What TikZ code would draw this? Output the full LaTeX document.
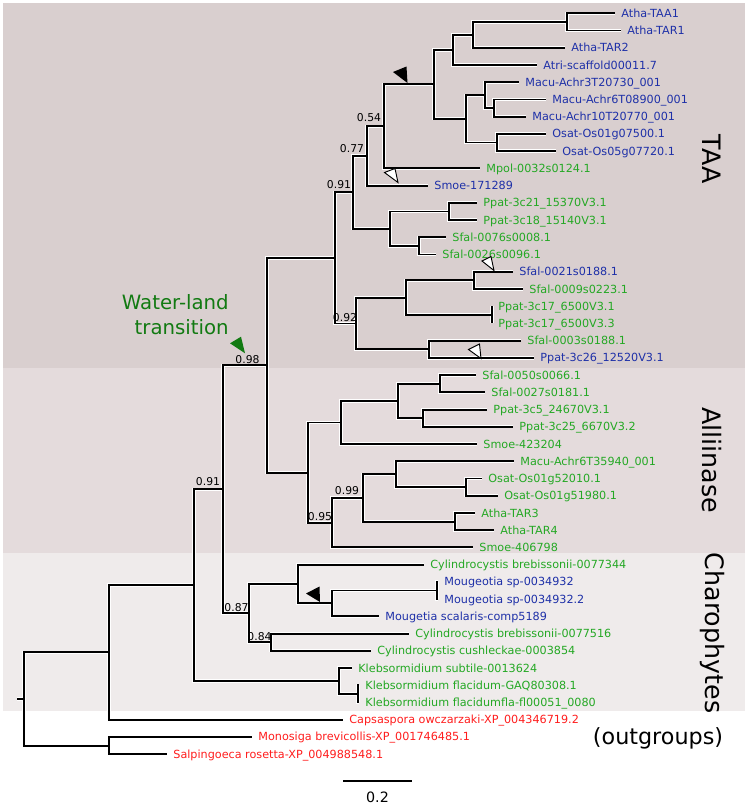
\documentclass[tikz,border=0pt]{standalone}
\usepackage{fontspec}
\setmainfont{DejaVu Sans}
\definecolor{seqblue}{RGB}{30,48,168}
\definecolor{seqgreen}{RGB}{36,168,36}
\definecolor{seqred}{RGB}{255,28,28}
\definecolor{wlgreen}{RGB}{18,122,18}
\definecolor{bgtaa}{RGB}{217,207,207}
\definecolor{bgalli}{RGB}{228,219,220}
\definecolor{bgcharo}{RGB}{239,235,235}

\begin{document}
\begin{tikzpicture}[x=0.75pt,y=-0.75pt,
	br/.style={line width=1.4pt,preaction={draw=white,line width=2.5pt}},
	lb/.style={anchor=west,inner xsep=4.6pt,inner ysep=0pt,text height=6.1pt,text depth=0pt,font=\fontsize{8.4}{10}\selectfont},
	lbb/.style={lb,text=seqblue},
	lbg/.style={lb,text=seqgreen},
	lbr/.style={lb,text=seqred},
	bs/.style={inner sep=0pt,text height=5.9pt,text depth=0pt,font=\fontsize{8.1}{10}\selectfont},
	grp/.style={inner sep=0pt,font=\fontsize{19}{22}\selectfont}]
				  \useasboundingbox (0,0) rectangle (748,804);
				  %BANDES
				  \fill[bgtaa] (3,3) rectangle (745,367.5);
				  \fill[bgalli] (3,367.5) rectangle (745,552.5);
				  \fill[bgcharo] (3,552.5) rectangle (745,711);
				  \node[grp,rotate=-90] (gtaa) at (712,159) {TAA};
				  \node[grp,rotate=-90] (galli) at (712,460) {Alliinase};
				  \node[grp,rotate=-90] (gcharo) at (712,633) {Charophytes};
				  \node[grp,font=\fontsize{16.7}{20}\selectfont] (gout) at (658,738) {(outgroups)};
				  %FEUILLES TAA
				  \node[lbb] (taa1) at (615,13.3) {Atha-TAA1};
				  \node[lbb] (tar1) at (621,30.5) {Atha-TAR1};
				  \node[lbb] (tar2) at (565,47.8) {Atha-TAR2};
				  \node[lbb] (atri) at (537,65.0) {Atri-scaffold00011.7};
				  \node[lbb] (macu3) at (519,82.2) {Macu-Achr3T20730\_001};
				  \node[lbb] (macu6) at (546,99.5) {Macu-Achr6T08900\_001};
				  \node[lbb] (macu10) at (526,116.7) {Macu-Achr10T20770\_001};
				  \node[lbb] (osat1) at (546,133.9) {Osat-Os01g07500.1};
				  \node[lbb] (osat5) at (556,151.1) {Osat-Os05g07720.1};
				  \node[lbg] (mpol) at (480,168.4) {Mpol-0032s0124.1};
				  \node[lbb] (smoeA) at (428,185.6) {Smoe-171289};
				  \node[lbg] (ppat21) at (477,202.8) {Ppat-3c21\_15370V3.1};
				  \node[lbg] (ppat18) at (477,220.1) {Ppat-3c18\_15140V3.1};
				  \node[lbg] (sfal76) at (446,237.3) {Sfal-0076s0008.1};
				  \node[lbg] (sfal26) at (436,254.5) {Sfal-0026s0096.1};
				  \node[lbb] (sfal21) at (513,271.7) {Sfal-0021s0188.1};
				  \node[lbg] (sfal09) at (523,289.0) {Sfal-0009s0223.1};
				  \node[lbg] (ppat17a) at (492,306.2) {Ppat-3c17\_6500V3.1};
				  \node[lbg] (ppat17b) at (492,323.4) {Ppat-3c17\_6500V3.3};
				  \node[lbg] (sfal03) at (521,340.7) {Sfal-0003s0188.1};
				  \node[lbb] (ppat26) at (534,357.9) {Ppat-3c26\_12520V3.1};
				  %FEUILLES ALLIINASE
				  \node[lbg] (sfal50) at (476,375.1) {Sfal-0050s0066.1};
				  \node[lbg] (sfal27) at (485,392.4) {Sfal-0027s0181.1};
				  \node[lbg] (ppat5) at (487,409.6) {Ppat-3c5\_24670V3.1};
				  \node[lbg] (ppat25) at (513,426.8) {Ppat-3c25\_6670V3.2};
				  \node[lbg] (smoeB) at (477,444.0) {Smoe-423204};
				  \node[lbg] (macuB) at (514,461.3) {Macu-Achr6T35940\_001};
				  \node[lbg] (osat52) at (482,478.5) {Osat-Os01g52010.1};
				  \node[lbg] (osat51) at (498,495.7) {Osat-Os01g51980.1};
				  \node[lbg] (tar3) at (475,513.0) {Atha-TAR3};
				  \node[lbg] (tar4) at (494,530.2) {Atha-TAR4};
				  \node[lbg] (smoeC) at (473,547.4) {Smoe-406798};
				  %FEUILLES CHAROPHYTES et OUTGROUPS
				  \node[lbg] (cyl44) at (424,564.7) {Cylindrocystis brebissonii-0077344};
				  \node[lbb] (mouA) at (438,581.9) {Mougeotia sp-0034932};
				  \node[lbb] (mouB) at (438,599.1) {Mougeotia sp-0034932.2};
				  \node[lbb] (mouS) at (379,616.3) {Mougetia scalaris-comp5189};
				  \node[lbg] (cyl16) at (409,633.6) {Cylindrocystis brebissonii-0077516};
				  \node[lbg] (cylC) at (371,650.8) {Cylindrocystis cushleckae-0003854};
				  \node[lbg] (kleS) at (352,668.0) {Klebsormidium subtile-0013624};
				  \node[lbg] (kleF) at (359,685.3) {Klebsormidium flacidum-GAQ80308.1};
				  \node[lbg] (kleG) at (359,702.5) {Klebsormidium flacidumfla-fl00051\_0080};
				  \node[lbr] (caps) at (343,719.7) {Capsaspora owczarzaki-XP\_004346719.2};
				  \node[lbr] (mono) at (252,736.9) {Monosiga brevicollis-XP\_001746485.1};
				  \node[lbr] (salp) at (167,754.2) {Salpingoeca rosetta-XP\_004988548.1};
				  %NOEUDS
				  \coordinate (a1) at (567,21.9);
				  \coordinate (a2) at (473,34.9);
				  \coordinate (a3) at (453,49.9);
				  \coordinate (m1) at (494,108.1);
				  \coordinate (m2) at (485,95.2);
				  \coordinate (o1) at (497,142.5);
				  \coordinate (m3) at (466,118.8);
				  \coordinate (ang) at (434,84.4);
				  \coordinate (n54) at (384,126.4);
				  \coordinate (n77) at (367,156.0);
				  \coordinate (p1) at (449,211.5);
				  \coordinate (s1) at (419,245.9);
				  \coordinate (p2) at (390,228.7);
				  \coordinate (n91a) at (353,192.4);
				  \coordinate (s2) at (474,280.4);
				  \coordinate (p3) at (492,314.8);
				  \coordinate (s3) at (406,297.6);
				  \coordinate (s4) at (429,349.3);
				  \coordinate (s5) at (356,323.5);
				  \coordinate (taa) at (335,258.0);
				  \coordinate (q1) at (440,383.8);
				  \coordinate (q2) at (423,418.2);
				  \coordinate (q3) at (398,401.0);
				  \coordinate (q4) at (341,422.5);
				  \coordinate (r1) at (466,487.1);
				  \coordinate (r2) at (396,474.2);
				  \coordinate (r3) at (455,521.6);
				  \coordinate (n99) at (363,497.9);
				  \coordinate (n95) at (332,522.7);
				  \coordinate (alli) at (308,472.6);
				  \coordinate (n98) at (267,365.3);
				  \coordinate (c1) at (437,590.5);
				  \coordinate (c2) at (332,603.4);
				  \coordinate (c3) at (298,584.0);
				  \coordinate (c4) at (271,642.2);
				  \coordinate (n87) at (249,613.1);
				  \coordinate (n91b) at (223,489.2);
				  \coordinate (k1) at (358,693.9);
				  \coordinate (k2) at (339,681.0);
				  \coordinate (ing) at (194,585.1);
				  \coordinate (capn) at (109,652.4);
				  \coordinate (outn) at (109,745.6);
				  \coordinate (root) at (24,699.0);
				  \coordinate (stem) at (17,699.0);
				  %BRANCHES
				  \draw[br] (a1) |- (taa1.west) (a1) |- (tar1.west)
				  	(a2) |- (a1) (a2) |- (tar2.west)
				  	(a3) |- (a2) (a3) |- (atri.west)
				  	(m1) |- (macu6.west) (m1) |- (macu10.west)
				  	(m2) |- (macu3.west) (m2) |- (m1)
				  	(o1) |- (osat1.west) (o1) |- (osat5.west)
				  	(m3) |- (m2) (m3) |- (o1)
				  	(ang) |- (a3) (ang) |- (m3)
				  	(n54) |- (ang) (n54) |- (mpol.west)
				  	(n77) |- (n54) (n77) |- (smoeA.west)
				  	(p1) |- (ppat21.west) (p1) |- (ppat18.west)
				  	(s1) |- (sfal76.west) (s1) |- (sfal26.west)
				  	(p2) |- (p1) (p2) |- (s1)
				  	(n91a) |- (n77) (n91a) |- (p2)
				  	(s2) |- (sfal21.west) (s2) |- (sfal09.west)
				  	(p3) |- (ppat17a.west) (p3) |- (ppat17b.west)
				  	(s3) |- (s2) (s3) |- (p3)
				  	(s4) |- (sfal03.west) (s4) |- (ppat26.west)
				  	(s5) |- (s3) (s5) |- (s4)
				  	(taa) |- (n91a) (taa) |- (s5)
				  	(q1) |- (sfal50.west) (q1) |- (sfal27.west)
				  	(q2) |- (ppat5.west) (q2) |- (ppat25.west)
				  	(q3) |- (q1) (q3) |- (q2)
				  	(q4) |- (q3) (q4) |- (smoeB.west)
				  	(r1) |- (osat52.west) (r1) |- (osat51.west)
				  	(r2) |- (macuB.west) (r2) |- (r1)
				  	(r3) |- (tar3.west) (r3) |- (tar4.west)
				  	(n99) |- (r2) (n99) |- (r3)
				  	(n95) |- (n99) (n95) |- (smoeC.west)
				  	(alli) |- (q4) (alli) |- (n95)
				  	(n98) |- (taa) (n98) |- (alli)
				  	(c1) |- (mouA.west) (c1) |- (mouB.west)
				  	(c2) |- (c1) (c2) |- (mouS.west)
				  	(c3) |- (cyl44.west) (c3) |- (c2)
				  	(c4) |- (cyl16.west) (c4) |- (cylC.west)
				  	(n87) |- (c3) (n87) |- (c4)
				  	(n91b) |- (n98) (n91b) |- (n87)
				  	(k1) |- (kleF.west) (k1) |- (kleG.west)
				  	(k2) |- (kleS.west) (k2) |- (k1)
				  	(ing) |- (n91b) (ing) |- (k2)
				  	(capn) |- (ing) (capn) |- (caps.west)
				  	(outn) |- (mono.west) (outn) |- (salp.west)
				  	(root) |- (capn) (root) |- (outn)
				  	(stem) -- (root);
				  %SUPPORTS
				  \node[bs] (b54) at (369,117.3) {0.54};
				  \node[bs] (b77) at (352,149) {0.77};
				  \node[bs] (b91a) at (339,185) {0.91};
				  \node[bs] (b92) at (345,318) {0.92};
				  \node[bs] (b98) at (247.5,359.3) {0.98};
				  \node[bs] (b91b) at (208,482) {0.91};
				  \node[bs] (b99) at (347,491) {0.99};
				  \node[bs] (b95) at (320,517) {0.95};
				  \node[bs] (b87) at (236.5,608) {0.87};
				  \node[bs] (b84) at (259.5,637) {0.84};
				  %FLECHES
				  \fill (393,72) -- (406.5,66.5) -- (407.5,83) -- cycle;
				  \fill (306,593.5) -- (319.5,586.5) -- (320,602) -- cycle;
				  \filldraw[fill=white,line width=0.7pt] (384.5,172.5) -- (395,168.5) -- (398,182.5) -- cycle;
				  \filldraw[fill=white,line width=0.7pt] (482,261) -- (491,256.5) -- (494,270.5) -- cycle;
				  \filldraw[fill=white,line width=0.7pt] (468.5,349.5) -- (479.5,344) -- (481,358.5) -- cycle;
				  \fill[wlgreen] (230,343.3) -- (241,336.7) -- (245,353.3) -- cycle;
				  \node[wlgreen,align=right,anchor=east,inner sep=0pt,font=\fontsize{14.8}{18.75}\selectfont] (wl) at (229,315) {Water-land\\transition};
				  %ECHELLE
				  \coordinate (sbl) at (343,781);
				  \coordinate (sbr) at (412,781);
				  \draw[line width=1.1pt] (sbl) -- (sbr);
				  \node[inner sep=0pt,font=\fontsize{10.7}{12}\selectfont] (sbt) at (377.5,797) {0.2};
\end{tikzpicture}
\end{document}
